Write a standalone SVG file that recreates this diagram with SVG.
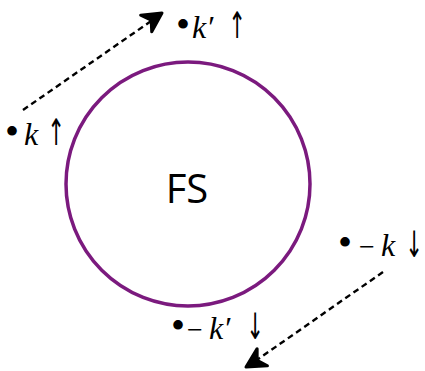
<svg xmlns="http://www.w3.org/2000/svg" width="425" height="371" viewBox="0 0 425 371">
<style>
.lbl{font-family:"Liberation Serif",serif;font-size:28px;fill:#000}
.it{font-style:italic;font-size:32px}
.bu{font-size:40px}
.ar{font-family:"DejaVu Sans",sans-serif;font-size:28px;text-anchor:middle;fill:#000}
.conn{stroke:#000;stroke-width:2.4;stroke-dasharray:6 4;fill:none}
</style>
<defs>
<marker id="ah" viewBox="0 0 10 10" refX="0" refY="0" markerWidth="10" markerHeight="10" markerUnits="userSpaceOnUse" orient="auto" overflow="visible">
<path d="M0,0 L-19,-10 L-13,0 L-19,10 Z" fill="#000" stroke="#000" stroke-width="3" stroke-linejoin="round"/>
</marker>
</defs>
<rect width="425" height="371" fill="#fff"/>
<g id="fs">
<circle cx="188" cy="184" r="122" fill="none" stroke="#7B1A7E" stroke-width="3.5"/>
<text x="187" y="203" text-anchor="middle" font-family="Open Sans, sans-serif" font-size="40">FS</text>
</g>
<g id="k-up"><text class="lbl" y="145"><tspan class="bu" x="5">•</tspan><tspan class="it" x="24">k</tspan></text><text class="ar" transform="translate(56,145) scale(0.75,1.3)">↑</text></g>
<g id="kp-up"><text class="lbl" y="38"><tspan class="bu" x="176">•</tspan><tspan class="it" x="192">k′</tspan></text><text class="ar" transform="translate(237,38) scale(0.75,1.3)">↑</text></g>
<g id="mk-down"><text class="lbl" y="256"><tspan class="bu" x="338">•</tspan><tspan x="359">−</tspan><tspan class="it" x="381">k</tspan></text><text class="ar" transform="translate(414,257) scale(0.75,1.3)">↓</text></g>
<g id="mkp-down"><text class="lbl" y="339"><tspan class="bu" x="171">•</tspan><tspan x="187">−</tspan><tspan class="it" x="209">k′</tspan></text><text class="ar" transform="translate(255,339) scale(0.75,1.3)">↓</text></g>
<g id="connectors">
<line class="conn" x1="23" y1="110" x2="154" y2="19"/>
<line class="conn" x1="383" y1="272" x2="254" y2="362"/>
<line stroke="#000" stroke-width="2.4" x1="150" y1="21" x2="162" y2="13" marker-end="url(#ah)"/>
<line stroke="#000" stroke-width="2.4" x1="256" y1="361" x2="246" y2="367" marker-end="url(#ah)"/>
</g>
</svg>
